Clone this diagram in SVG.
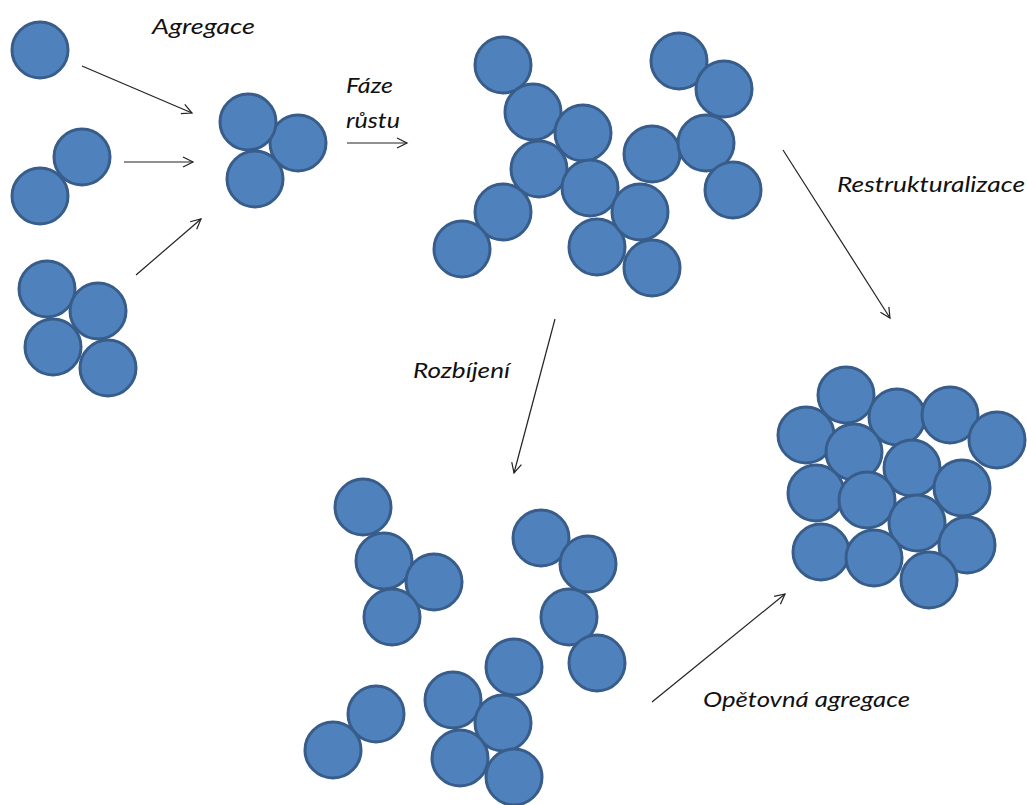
<svg xmlns="http://www.w3.org/2000/svg" width="1027" height="805" viewBox="0 0 1027 805">
<style>
.p{fill:#4F81BD;stroke:#385D8A;stroke-width:3}
.c{stroke:#222;stroke-width:1.2;fill:none}
.t{font-family:Lato,"Open Sans","Liberation Sans",sans-serif;font-style:italic;font-size:21px;fill:#111}
</style>
<defs>
<marker id="ah" markerUnits="userSpaceOnUse" markerWidth="14" markerHeight="14" refX="11" refY="6" orient="auto" viewBox="0 0 14 12">
<path d="M1,1 L11,6 L1,11" fill="none" stroke="#222" stroke-width="1.2"/>
</marker>
</defs>
<rect width="1027" height="805" fill="#fff"/>
<g id="single">
<circle class="p" cx="40" cy="50" r="28"/>
</g>
<g id="pair">
<circle class="p" cx="40" cy="196" r="28"/>
<circle class="p" cx="82" cy="157" r="28"/>
</g>
<g id="quad">
<circle class="p" cx="47" cy="289" r="28"/>
<circle class="p" cx="98" cy="311" r="28"/>
<circle class="p" cx="53" cy="347" r="28"/>
<circle class="p" cx="108" cy="368" r="28"/>
</g>
<g id="triple">
<circle class="p" cx="298" cy="143" r="28"/>
<circle class="p" cx="255" cy="179" r="28"/>
<circle class="p" cx="248" cy="122" r="28"/>
</g>
<g id="fractal">
<circle class="p" cx="503" cy="65" r="28"/>
<circle class="p" cx="533" cy="112" r="28"/>
<circle class="p" cx="583" cy="133" r="28"/>
<circle class="p" cx="539" cy="169" r="28"/>
<circle class="p" cx="590" cy="188" r="28"/>
<circle class="p" cx="503" cy="212" r="28"/>
<circle class="p" cx="462" cy="249" r="28"/>
<circle class="p" cx="597" cy="247" r="28"/>
<circle class="p" cx="652" cy="154" r="28"/>
<circle class="p" cx="640" cy="212" r="28"/>
<circle class="p" cx="652" cy="268" r="28"/>
<circle class="p" cx="679" cy="61" r="28"/>
<circle class="p" cx="724" cy="89" r="28"/>
<circle class="p" cx="706" cy="143" r="28"/>
<circle class="p" cx="733" cy="190" r="28"/>
</g>
<g id="compact">
<circle class="p" cx="846" cy="395" r="28"/>
<circle class="p" cx="806" cy="435" r="28"/>
<circle class="p" cx="897" cy="417" r="28"/>
<circle class="p" cx="950" cy="415" r="28"/>
<circle class="p" cx="997" cy="440" r="28"/>
<circle class="p" cx="854" cy="452" r="28"/>
<circle class="p" cx="912" cy="468" r="28"/>
<circle class="p" cx="816" cy="493" r="28"/>
<circle class="p" cx="867" cy="500" r="28"/>
<circle class="p" cx="962" cy="488" r="28"/>
<circle class="p" cx="917" cy="523" r="28"/>
<circle class="p" cx="821" cy="552" r="28"/>
<circle class="p" cx="874" cy="558" r="28"/>
<circle class="p" cx="967" cy="545" r="28"/>
<circle class="p" cx="929" cy="580" r="28"/>
</g>
<g id="fragments">
<circle class="p" cx="363" cy="507" r="28"/>
<circle class="p" cx="384" cy="561" r="28"/>
<circle class="p" cx="434" cy="582" r="28"/>
<circle class="p" cx="392" cy="617" r="28"/>
<circle class="p" cx="541" cy="538" r="28"/>
<circle class="p" cx="588" cy="564" r="28"/>
<circle class="p" cx="569" cy="617" r="28"/>
<circle class="p" cx="597" cy="663" r="28"/>
<circle class="p" cx="514" cy="667" r="28"/>
<circle class="p" cx="453" cy="700" r="28"/>
<circle class="p" cx="503" cy="723" r="28"/>
<circle class="p" cx="460" cy="758" r="28"/>
<circle class="p" cx="514" cy="777" r="28"/>
<circle class="p" cx="376" cy="714" r="28"/>
<circle class="p" cx="333" cy="750" r="28"/>
</g>
<g id="connectors">
<line class="c" x1="82" y1="66" x2="192" y2="113" marker-end="url(#ah)"/>
<line class="c" x1="124" y1="162" x2="193" y2="162" marker-end="url(#ah)"/>
<line class="c" x1="136" y1="275" x2="201" y2="219" marker-end="url(#ah)"/>
<line class="c" x1="347" y1="143" x2="407" y2="143" marker-end="url(#ah)"/>
<line class="c" x1="783" y1="150" x2="890" y2="318" marker-end="url(#ah)"/>
<line class="c" x1="555" y1="319" x2="514" y2="473" marker-end="url(#ah)"/>
<line class="c" x1="652" y1="702" x2="785" y2="594" marker-end="url(#ah)"/>
</g>
<g id="labels">
<text class="t" x="152" y="34" textLength="103" lengthAdjust="spacingAndGlyphs">Agregace</text>
<text class="t" x="346" y="93" textLength="47" lengthAdjust="spacingAndGlyphs">Fáze</text>
<text class="t" x="346" y="128" textLength="54" lengthAdjust="spacingAndGlyphs">růstu</text>
<text class="t" x="837" y="192" textLength="188" lengthAdjust="spacingAndGlyphs">Restrukturalizace</text>
<text class="t" x="413" y="378" textLength="97" lengthAdjust="spacingAndGlyphs">Rozbíjení</text>
<text class="t" x="703" y="707" textLength="207" lengthAdjust="spacingAndGlyphs">Opětovná agregace</text>
</g>
</svg>
